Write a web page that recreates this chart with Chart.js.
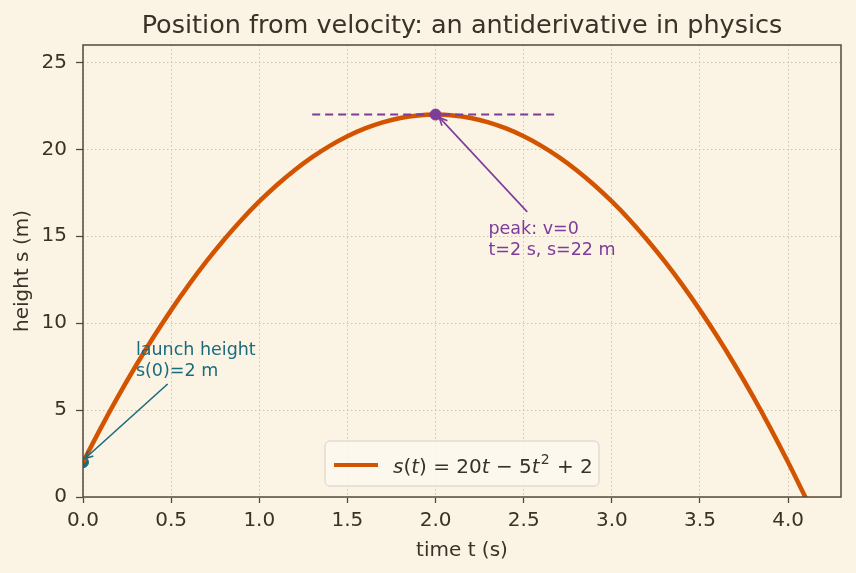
<!DOCTYPE html>
<html lang="en">
<head>
  <meta charset="UTF-8" />
  <title>Position from velocity</title>
  <script src="https://cdn.jsdelivr.net/npm/chart.js"></script>
  <style>
    html, body { margin: 0; padding: 0; background: #fbf3e4; }
    canvas { display: block; }
  </style>
</head>
<body>
  <canvas id="chart" width="856" height="573"></canvas>

  <script>
    // s(t), every 0.1 s
    const times = [0.0, 0.1, 0.2, 0.3, 0.4, 0.5, 0.6, 0.7, 0.8, 0.9, 1.0,
                   1.1, 1.2, 1.3, 1.4, 1.5, 1.6, 1.7, 1.8, 1.9, 2.0,
                   2.1, 2.2, 2.3, 2.4, 2.5, 2.6, 2.7, 2.8, 2.9, 3.0,
                   3.1, 3.2, 3.3, 3.4, 3.5, 3.6, 3.7, 3.8, 3.9, 4.0, 4.1];
    const heights = [2.0, 3.95, 5.8, 7.55, 9.2, 10.75, 12.2, 13.55, 14.8, 15.95, 17.0,
                     17.95, 18.8, 19.55, 20.2, 20.75, 21.2, 21.55, 21.8, 21.95, 22.0,
                     21.95, 21.8, 21.55, 21.2, 20.75, 20.2, 19.55, 18.8, 17.95, 17.0,
                     15.95, 14.8, 13.55, 12.2, 10.75, 9.2, 7.55, 5.8, 3.95, 2.0, -0.05];

    const launchPoint = [0, 2];
    const peakPoint = [2, 22];
    const peakLineT = [1.3, 2.7];

    const xTicks = [0, 0.5, 1.0, 1.5, 2.0, 2.5, 3.0, 3.5, 4.0];
    const yTicks = [0, 5, 10, 15, 20, 25];

    // annotation text anchors and arrow ends, in data units
    const launchText = ['launch height', 's(0)=2 m'];
    const launchTextAt = [0.3, 7];
    const launchArrow = [0.48, 6.5, 0.01, 2.2];
    const peakText = ['peak: v=0', 't=2 s, s=22 m'];
    const peakTextAt = [2.3, 14];
    const peakArrow = [2.52, 16.4, 2.02, 21.85];

    const FONT = '"DejaVu Sans", sans-serif';
    const ink = '#3a3226';
    const frameColor = '#54493a';
    const curveColor = '#d35400';
    const teal = '#1a6b7c';
    const purple = '#7d3c98';

    function drawArrow(ctx, x0, y0, x1, y1, color) {
      ctx.save();
      ctx.strokeStyle = color;
      ctx.lineWidth = 1.6;
      ctx.beginPath();
      ctx.moveTo(x0, y0);
      ctx.lineTo(x1, y1);
      ctx.stroke();
      const a = Math.atan2(y1 - y0, x1 - x0);
      const L = 9;
      ctx.beginPath();
      ctx.moveTo(x1 - L * Math.cos(a - 0.42), y1 - L * Math.sin(a - 0.42));
      ctx.lineTo(x1, y1);
      ctx.lineTo(x1 - L * Math.cos(a + 0.42), y1 - L * Math.sin(a + 0.42));
      ctx.stroke();
      ctx.restore();
    }

    const decor = {
      id: 'decor',
      afterDatasetsDraw(chart) {
        const { ctx, chartArea: ca, scales: { x, y } } = chart;
        ctx.save();

        // frame
        ctx.strokeStyle = frameColor;
        ctx.lineWidth = 1.5;
        ctx.strokeRect(ca.left, ca.top, ca.right - ca.left, ca.bottom - ca.top);

        // arrows
        drawArrow(ctx, x.getPixelForValue(launchArrow[0]), y.getPixelForValue(launchArrow[1]),
                  x.getPixelForValue(launchArrow[2]), y.getPixelForValue(launchArrow[3]), teal);
        drawArrow(ctx, x.getPixelForValue(peakArrow[0]), y.getPixelForValue(peakArrow[1]),
                  x.getPixelForValue(peakArrow[2]), y.getPixelForValue(peakArrow[3]), purple);

        // annotation text (anchored bottom-left)
        ctx.font = '17.5px ' + FONT;
        ctx.textAlign = 'left';
        ctx.textBaseline = 'alphabetic';
        ctx.fillStyle = teal;
        let tx = x.getPixelForValue(launchTextAt[0]);
        let ty = y.getPixelForValue(launchTextAt[1]) + 1;
        ctx.fillText(launchText[1], tx, ty);
        ctx.fillText(launchText[0], tx, ty - 21);
        ctx.fillStyle = purple;
        tx = x.getPixelForValue(peakTextAt[0]);
        ty = y.getPixelForValue(peakTextAt[1]) + 1;
        ctx.fillText(peakText[1], tx, ty);
        ctx.fillText(peakText[0], tx, ty - 21);

        // title
        const cx = (ca.left + ca.right) / 2;
        ctx.fillStyle = ink;
        ctx.textAlign = 'center';
        ctx.font = '25.5px ' + FONT;
        ctx.fillText('Position from velocity: an antiderivative in physics', cx, 33);

        // axis labels
        ctx.font = '20px ' + FONT;
        ctx.fillText('time t (s)', cx, 556);
        ctx.save();
        ctx.translate(28, (ca.top + ca.bottom) / 2);
        ctx.rotate(-Math.PI / 2);
        ctx.fillText('height s (m)', 0, 0);
        ctx.restore();

        // legend box
        const lx = 325, ly = 441, lw = 274, lh = 45, r = 5;
        ctx.beginPath();
        ctx.roundRect(lx, ly, lw, lh, r);
        ctx.fillStyle = 'rgba(252,248,240,0.85)';
        ctx.fill();
        ctx.strokeStyle = '#d6cfc2';
        ctx.lineWidth = 1;
        ctx.stroke();
        ctx.strokeStyle = curveColor;
        ctx.lineWidth = 4;
        ctx.beginPath();
        ctx.moveTo(334, 465);
        ctx.lineTo(378, 465);
        ctx.stroke();

        // legend formula  s(t) = 20t − 5t² + 2
        const parts = [
          ['s', 'italic'], ['(', ''], ['t', 'italic'], [') = 20', ''], ['t', 'italic'],
          [' − 5', ''], ['t', 'italic'], ['2', 'sup'], [' + 2', '']
        ];
        ctx.fillStyle = ink;
        ctx.textAlign = 'left';
        let px = 393;
        const base = 473;
        parts.forEach(([s, style]) => {
          if (style === 'sup') {
            ctx.font = '14px ' + FONT;
            ctx.fillText(s, px + 1, base - 9);
            px += ctx.measureText(s).width + 2;
          } else {
            ctx.font = (style === 'italic' ? 'italic ' : '') + '20px ' + FONT;
            ctx.fillText(s, px, base);
            px += ctx.measureText(s).width;
          }
        });

        ctx.restore();
      }
    };

    const gridBase = {
      color: '#cdc2ae',
      lineWidth: 1,
      tickColor: frameColor,
      tickWidth: 1.3,
      tickBorderDash: []
    };

    new Chart(document.getElementById('chart'), {
      type: 'line',
      data: {
        datasets: [
          {
            data: [{ x: launchPoint[0], y: launchPoint[1] }],
            showLine: false,
            pointRadius: 5.5,
            pointBackgroundColor: teal,
            pointBorderColor: teal,
            order: 3
          },
          {
            data: times.map((t, i) => ({ x: t, y: heights[i] })),
            borderColor: curveColor,
            borderWidth: 4.5,
            pointRadius: 0,
            cubicInterpolationMode: 'monotone',
            order: 2
          },
          {
            data: peakLineT.map(t => ({ x: t, y: peakPoint[1] })),
            borderColor: purple,
            borderWidth: 2,
            borderDash: [8, 5],
            pointRadius: 0,
            order: 1
          },
          {
            data: [{ x: peakPoint[0], y: peakPoint[1] }],
            showLine: false,
            pointRadius: 5.5,
            pointBackgroundColor: purple,
            pointBorderColor: purple,
            order: 0
          }
        ]
      },
      options: {
        responsive: false,
        animation: false,
        layout: { padding: { top: 45, right: 15, left: 0, bottom: 0 } },
        plugins: { legend: { display: false }, tooltip: { enabled: false } },
        scales: {
          x: {
            type: 'linear',
            min: 0,
            max: 4.3,
            afterFit: s => { s.height = 76; },
            afterBuildTicks: s => { s.ticks = xTicks.map(v => ({ value: v })); },
            grid: { ...gridBase, tickLength: 6 },
            border: { display: false, dash: [1.5, 2.5] },
            ticks: {
              color: ink,
              padding: 6,
              font: { family: FONT, size: 20 },
              callback: v => Number(v).toFixed(1)
            }
          },
          y: {
            type: 'linear',
            min: 0,
            max: 26,
            afterFit: s => { s.width = 83; },
            afterBuildTicks: s => { s.ticks = yTicks.map(v => ({ value: v })); },
            grid: { ...gridBase, tickLength: 7 },
            border: { display: false, dash: [1.5, 2.5] },
            ticks: {
              color: ink,
              padding: 9,
              font: { family: FONT, size: 20 },
              callback: v => String(v)
            }
          }
        }
      },
      plugins: [decor]
    });
  </script>
</body>
</html>
